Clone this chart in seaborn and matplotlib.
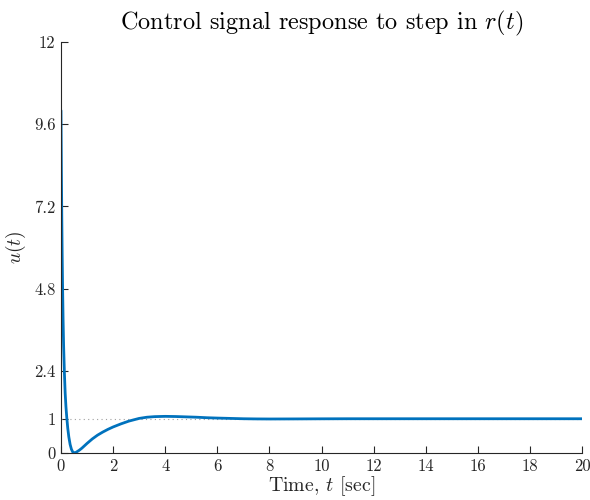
import numpy as np
import pandas as pd
import matplotlib
matplotlib.use("Agg")
import matplotlib.pyplot as plt
import seaborn as sns

# values
t_values = [0.0, 0.015, 0.03, 0.045, 0.06, 0.08, 0.1, 0.13, 0.16, 0.19, 0.22, 0.26,
            0.3, 0.35, 0.4, 0.45, 0.5, 0.55, 0.6, 0.7, 0.8, 0.9, 1.0, 1.2, 1.4, 1.6, 1.8,
            2.0, 2.3, 2.6, 3.0, 3.3, 3.6, 4.0, 4.4, 4.8, 5.2, 5.6, 6.0, 6.5,
            7.0, 7.5, 8.0, 9.0, 10.0, 11.0, 12.0, 14.0, 16.0, 18.0, 20.0]
u_values = [10.0, 8.3, 6.9, 5.8, 4.9, 3.9, 3.15, 2.35, 1.75, 1.35, 1.05, 0.72,
            0.47, 0.25, 0.11, 0.03, 0.0, 0.01, 0.03, 0.08, 0.14, 0.21, 0.28, 0.41, 0.52, 0.61, 0.69,
            0.76, 0.85, 0.93, 1.01, 1.045, 1.062, 1.07, 1.065, 1.055, 1.045, 1.03, 1.02, 1.01,
            1.0, 0.995, 0.993, 0.995, 0.998, 1.0, 1.0, 1.0, 1.0, 1.0, 1.0]
ref_level = 1.0
y_ticks = [0, 1, 2.4, 4.8, 7.2, 9.6, 12]
y_tick_labels = ["0", "1", "2.4", "4.8", "7.2", "9.6", "12"]
x_ticks = list(range(0, 21, 2))

title = r"Control signal response to step in $r(t)$"
xlabel = r"Time, $t$ [sec]"
ylabel = r"$u(t)$"

sns.set_style("ticks")
plt.rcParams["font.family"] = ["cmr10", "DejaVu Serif"]
plt.rcParams["mathtext.fontset"] = "cm"
plt.rcParams["axes.formatter.use_mathtext"] = True
plt.rcParams["xtick.direction"] = "in"
plt.rcParams["ytick.direction"] = "in"

df = pd.DataFrame({"t": t_values, "u": u_values})

fig = plt.figure(figsize=(5.9, 5.0), dpi=100)
ax = fig.add_axes([61 / 590, 47 / 500, 521 / 590, 411 / 500])

ax.axhline(ref_level, color="#a0a0a0", linestyle=(0, (1, 3)), linewidth=0.8, zorder=1)
sns.lineplot(data=df, x="t", y="u", ax=ax, color="#0072BD", linewidth=2.0, zorder=2)

ax.set_xlim(0, 20)
ax.set_ylim(0, 12)
ax.set_xticks(x_ticks)
ax.set_xticklabels([str(v) for v in x_ticks])
ax.set_yticks(y_ticks)
ax.set_yticklabels(y_tick_labels)
for s in ["top", "right"]:
    ax.spines[s].set_visible(False)
for s in ["left", "bottom"]:
    ax.spines[s].set_color("#262626")
    ax.spines[s].set_linewidth(0.8)
ax.tick_params(axis="both", length=5, width=0.8, color="#262626",
               labelsize=12, labelcolor="#262626", pad=4)

ax.set_title(title, fontsize=17.5, pad=9, color="black")
ax.set_xlabel(xlabel, fontsize=14.3, labelpad=0, color="#262626")
ax.set_ylabel(ylabel, fontsize=14, labelpad=4, color="#262626")

fig.savefig("out.png", dpi=100)
